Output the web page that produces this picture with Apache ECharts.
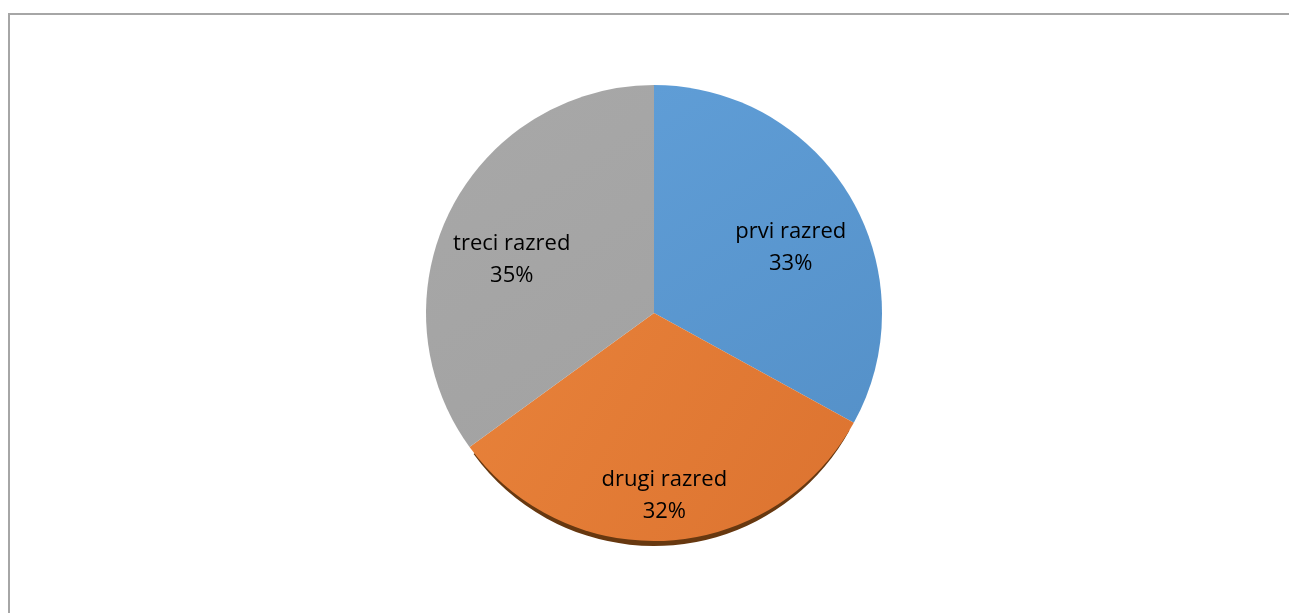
<!DOCTYPE html>
<html>
<head>
<meta charset="utf-8">
<script src="https://cdn.jsdelivr.net/npm/echarts@6/dist/echarts.min.js"></script>
<style>
html,body{margin:0;padding:0;background:#fff;}
#chart{width:1289px;height:613px;}
</style>
</head>
<body>
<div id="chart"></div>
<script>
// Data
const categories = ['prvi razred', 'drugi razred', 'treci razred'];
const values = [33, 32, 35];

// Styling (not data)
const topColors = [
  ['#5f9dd6', '#5591c9'],
  ['#e8823a', '#dc7330'],
  ['#a8a8a8', '#a2a2a2']
];
const sideColors = ['rgba(0,0,0,0)', '#673810', 'rgba(0,0,0,0)'];
const labelOffsets = [[36, -6], [3, 66], [-38, 0]];

const CX = 654, CY = 313, R = 228, SHIFT = 10, SHRINK = 5;

function grad(c) {
  return new echarts.graphic.LinearGradient(0, 0, 1, 1, [
    { offset: 0, color: c[0] }, { offset: 1, color: c[1] }
  ]);
}

const chart = echarts.init(document.getElementById('chart'), null, { renderer: 'canvas' });
chart.setOption({
  animation: false,
  backgroundColor: '#ffffff',
  graphic: [{
    type: 'rect',
    shape: { x: 9, y: 14, width: 1400, height: 800 },
    style: { fill: 'none', stroke: '#a6a6a6', lineWidth: 2 },
    z: -10
  }],
  series: [
    {
      type: 'pie',
      silent: true,
      center: [CX, CY + SHIFT],
      radius: [0, R - SHRINK],
      startAngle: 90,
      clockwise: true,
      z: 1,
      label: { show: false },
      labelLine: { show: false },
      data: categories.map((c, i) => ({
        name: c, value: values[i],
        itemStyle: { color: sideColors[i], borderWidth: 0 }
      }))
    },
    {
      type: 'pie',
      center: [CX, CY],
      radius: [0, R],
      startAngle: 90,
      clockwise: true,
      z: 2,
      itemStyle: { borderWidth: 0 },
      label: {
        show: true,
        position: 'inside',
        formatter: p => p.name + '\n' + Math.round(p.percent) + '%',
        fontFamily: 'Open Sans',
        fontSize: 22,
        lineHeight: 32,
        color: '#000000',
        align: 'center'
      },
      labelLine: { show: false },
      labelLayout: function (params) {
        const o = labelOffsets[params.dataIndex];
        return { dx: o[0], dy: o[1] };
      },
      data: categories.map((c, i) => ({
        name: c, value: values[i],
        itemStyle: { color: grad(topColors[i]) }
      }))
    }
  ]
});
</script>
</body>
</html>
